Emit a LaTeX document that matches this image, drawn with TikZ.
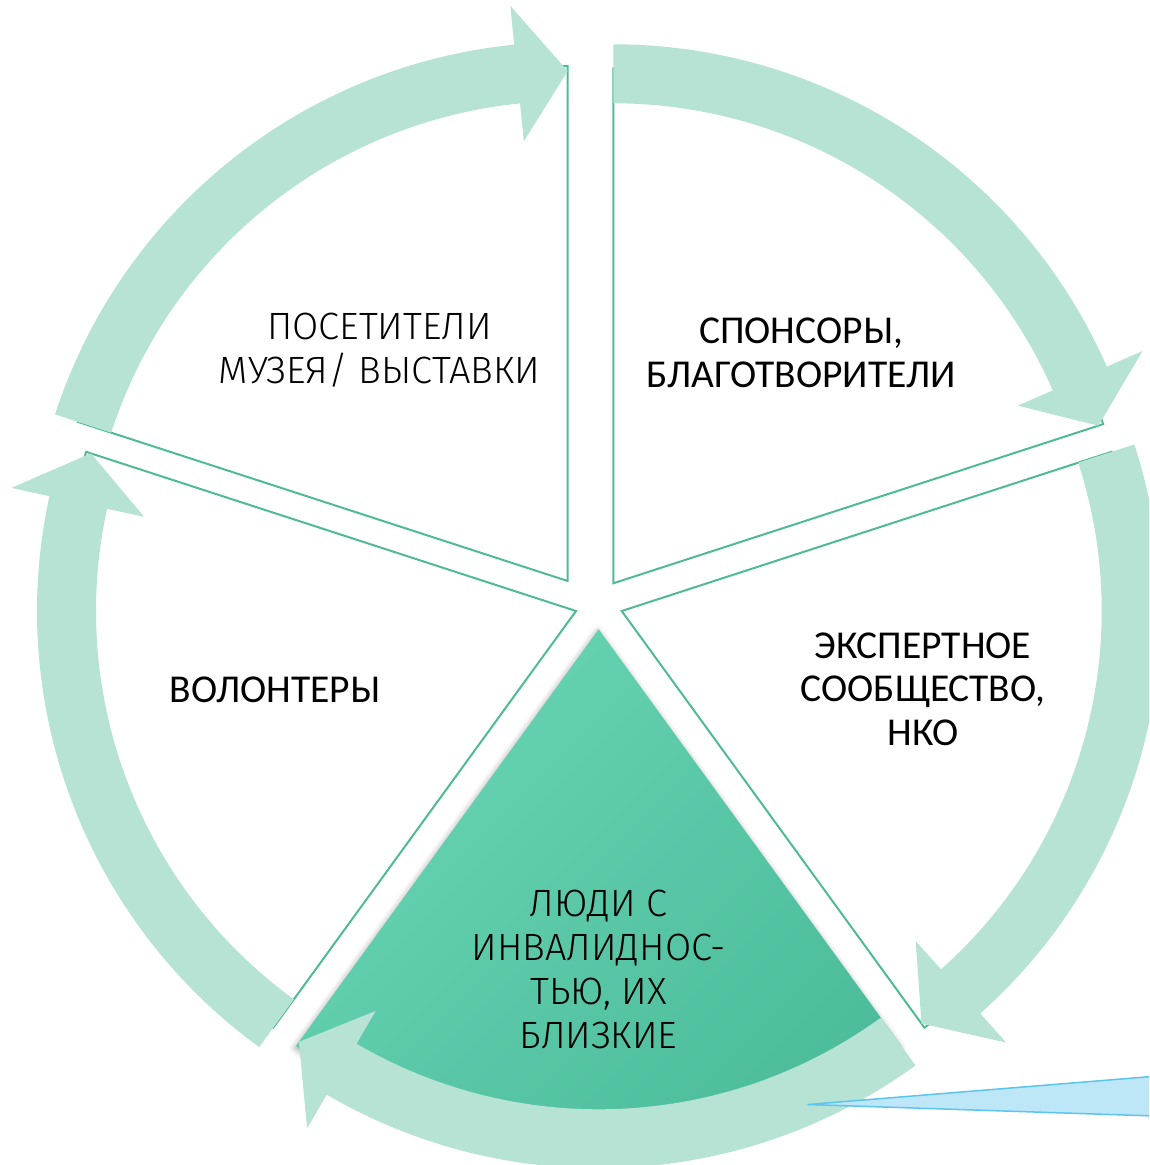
\documentclass[tikz,border=0pt]{standalone}
\usepackage{fontspec}
\setmainfont{Carlito}
\IfFontExistsTF{Fira Sans Light}{\newfontfamily\lightfont{Fira Sans Light}}{\newfontfamily\lightfont{Carlito}}
\usetikzlibrary{shadows.blur}
\definecolor{arrowc}{RGB}{182,227,212}
\definecolor{edgec}{RGB}{80,186,152}
\definecolor{fillA}{RGB}{104,212,180}
\definecolor{fillB}{RGB}{76,188,155}
\definecolor{blueF}{RGB}{189,230,247}
\definecolor{blueD}{RGB}{91,197,240}
% arrow: center, tail angle, head-base angle, tip angle
\newcommand\cyclearrow[4]{%
  \fill[cyclearrowstyle] ([shift={(#1)}]#2:539pt) arc[start angle=#2, end angle=#3, radius=539pt]
   -- ([shift={(#1)}]#3:578pt) -- ([shift={(#1)}]#4:510pt) -- ([shift={(#1)}]#3:442pt)
   -- ([shift={(#1)}]#3:480pt) arc[start angle=#3, end angle=#2, radius=480pt] -- cycle;}
% sector: style, apex, start angle, end angle
\newcommand\sectorshape[4][]{%
  \path[#1] (#2) -- ([shift={(#2)}]#3:515pt) arc[start angle=#3, end angle=#4, radius=515pt] -- cycle;}
\begin{document}
\begin{tikzpicture}[x=1pt,y=1pt,
  cyclearrowstyle/.style={fill=arrowc},
  plainsector/.style={fill=white, draw=edgec, line width=2pt, line join=miter},
  mainsector/.style={top color=fillA, bottom color=fillB, shading angle=45,
     blur shadow={shadow xshift=-1pt, shadow yshift=-2pt, shadow blur radius=6pt, shadow opacity=35}},
  pointer/.style={fill=blueF, draw=blueD, line width=1.5pt, line join=round},
  lbl/.style={font=\fontsize{39.5}{46}\selectfont, anchor=base, inner sep=0pt},
  lightlbl/.style={font=\lightfont\fontsize{38}{44}\selectfont, anchor=base, inner sep=0pt}]
\useasboundingbox (0,0) rectangle (1149,-1165);
\clip (0,0) rectangle (1149,-1165);
\coordinate (c1) at (567.7,-581);
\coordinate (c2) at (613.3,-583.3);
\coordinate (c3) at (621.7,-611);
\coordinate (c4) at (598.7,-629.3);
\coordinate (c5) at (576,-611);
% sectors
\sectorshape[plainsector]{c1}{90}{162}
\sectorshape[plainsector]{c2}{18}{90}
\sectorshape[plainsector]{c3}{-54}{18}
\sectorshape[plainsector]{c5}{162}{234}
\sectorshape[mainsector]{c4}{-126}{-54}
% circular arrows
\cyclearrow{c1}{162}{95.7}{90}
\cyclearrow{c2}{90}{23.7}{18}
\cyclearrow{c3}{18}{-48.3}{-54}
\cyclearrow{c4}{-54}{-120.3}{-126}
\cyclearrow{c5}{234}{167.7}{162}
% blue pointer
\coordinate (ptip) at (808,-1104.5);
\coordinate (pa) at (1170,-1075);
\coordinate (pb) at (1170,-1116.5);
\filldraw[pointer] (ptip) -- (pa) -- (pb) -- cycle;
% labels
\node[lightlbl] (v1) at (379.5,-339) {ПОСЕТИТЕЛИ};
\node[lightlbl] (v2) at (379.5,-383) {МУЗЕЯ/ ВЫСТАВКИ};
\node[lbl] (s1) at (801,-343) {СПОНСОРЫ,};
\node[lbl] (s2) at (801,-387) {БЛАГОТВОРИТЕЛИ};
\node[lbl] (e1) at (923,-658) {ЭКСПЕРТНОЕ};
\node[lbl] (e2) at (923,-701) {СООБЩЕСТВО,};
\node[lbl] (e3) at (923,-745) {НКО};
\node[lbl] (w1) at (275,-702) {ВОЛОНТЕРЫ};
\node[lightlbl] (p1) at (598.5,-916) {ЛЮДИ С};
\node[lightlbl] (p2) at (598.5,-960) {ИНВАЛИДНОС-};
\node[lightlbl] (p3) at (598.5,-1004) {ТЬЮ, ИХ};
\node[lightlbl] (p4) at (598.5,-1048) {БЛИЗКИЕ};
\end{tikzpicture}
\end{document}
